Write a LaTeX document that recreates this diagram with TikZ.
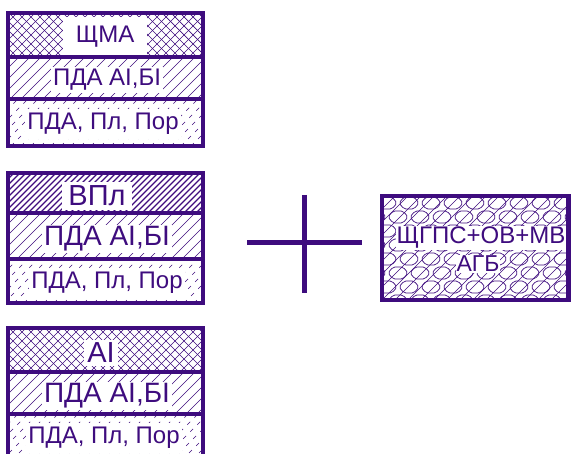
\documentclass[tikz,border=0pt]{standalone}
\usepackage{fontspec}
\setmainfont{Liberation Sans}
\definecolor{pc}{RGB}{62,12,126}
\newcommand\myhatch[6]{%
 \begin{scope}
 \clip (#2,#3) rectangle (#4,#5);
 \pgfmathsetmacro\hh{#5-#3}
 \foreach \i in {0,#6,...,320} \draw[#1] ({#2-\hh+\i},#5) -- ++(\hh,-\hh);
 \end{scope}}
\newcommand\mycross[6]{%
 \begin{scope}
 \clip (#2,#3) rectangle (#4,#5);
 \pgfmathsetmacro\hh{#5-#3}
 \foreach \i in {0,#6,...,320} {\draw[#1] ({#2-\hh+\i},#5) -- ++(\hh,-\hh);
   \draw[#1] ({#2-\hh+\i},#3) -- ++(\hh,\hh);}
 \end{scope}}
\tikzset{
 hl/.style={draw=pc,line width=0.7pt},
 hlb/.style={draw=pc,line width=1.2pt},
 hld/.style={draw=pc,line width=0.7pt,dash pattern=on 4pt off 6pt},
 border/.style={draw=pc,line width=4.5pt},
 divider/.style={draw=pc,line width=4pt},
 lab/.style={fill=white,text=pc,inner sep=2pt},
 plusbar/.style={draw=pc,line width=5pt},
}
\begin{document}
\begin{tikzpicture}[x=1pt,y=-1pt]
\useasboundingbox (0,0) rectangle (571,454);
% ---- box 1
\mycross{hl}{8}{13}{203}{57}{9}
\myhatch{hl}{8}{57}{203}{99}{11}
\myhatch{hld}{8}{99}{203}{146}{10}
\node[lab,minimum width=84pt,minimum height=40pt,font=\fontsize{24}{24}\selectfont] (a1) at (105,37) {ЩМА};
\node[lab,font=\fontsize{24}{24}\selectfont] (a2) at (107,80) {ПДА АІ,БІ};
\node[lab,inner ysep=4pt,font=\fontsize{24}{24}\selectfont] (a3) at (103,124) {ПДА, Пл, Пор};
\draw[border] (8,13) rectangle (203,146);
\draw[divider] (8,57) -- (203,57);
\draw[divider] (8,99) -- (203,99);
% ---- box 2
\myhatch{hlb}{8}{173}{203}{213}{6}
\myhatch{hl}{8}{213}{203}{259}{11}
\myhatch{hld}{8}{259}{203}{303}{10}
\node[lab,inner xsep=6pt,inner ysep=4pt,font=\fontsize{29}{29}\selectfont] (b1) at (97,196) {ВПл};
\node[lab,font=\fontsize{28}{28}\selectfont] (b2) at (107,239) {ПДА АІ,БІ};
\node[lab,inner ysep=4pt,font=\fontsize{24}{24}\selectfont] (b3) at (107,283) {ПДА, Пл, Пор};
\draw[border] (8,173) rectangle (203,303);
\draw[divider] (8,213) -- (203,213);
\draw[divider] (8,259) -- (203,259);
% ---- box 3
\mycross{hl}{8}{328}{203}{372}{9}
\myhatch{hl}{8}{372}{203}{414}{11}
\myhatch{hld}{8}{414}{203}{460}{10}
\node[lab,inner xsep=3pt,inner ysep=3pt,font=\fontsize{29}{29}\selectfont] (c1) at (101,353) {АІ};
\node[lab,font=\fontsize{28}{28}\selectfont] (c2) at (107,396) {ПДА АІ,БІ};
\node[lab,inner ysep=4pt,font=\fontsize{24}{24}\selectfont] (c3) at (104,438) {ПДА, Пл, Пор};
\draw[border] (8,328) rectangle (203,460);
\draw[divider] (8,372) -- (203,372);
\draw[divider] (8,414) -- (203,414);
% ---- plus
\draw[plusbar] (247,243) -- (362,243);
\draw[plusbar] (304,195) -- (304,293);
% ---- right box
\begin{scope}
\clip (382,196) rectangle (569,300);
\foreach \i in {0,13,...,320} \draw[hl] ({382-104+\i},300) -- ++(104,-104);
\foreach \r [count=\k] in {203,217,231,245,259,273,287,301} {
  \pgfmathsetmacro\off{mod(\k,2)*11}
  \foreach \c in {366,388,...,590}
    \draw[hl,rounded corners=2pt] ({\c+\off},\r) -- ++(5,-6) -- ++(10,0) -- ++(5,6) -- ++(-5,6) -- ++(-10,0) -- cycle;
}
\end{scope}
\node[lab,inner sep=1pt,font=\fontsize{24}{24}\selectfont] (d1) at (481,238) {ЩГПС+ОВ+МВ};
\node[lab,inner sep=1pt,font=\fontsize{23}{23}\selectfont] (d2) at (478,264) {АГБ};
\draw[border] (382,196) rectangle (568.5,300);
\end{tikzpicture}
\end{document}
